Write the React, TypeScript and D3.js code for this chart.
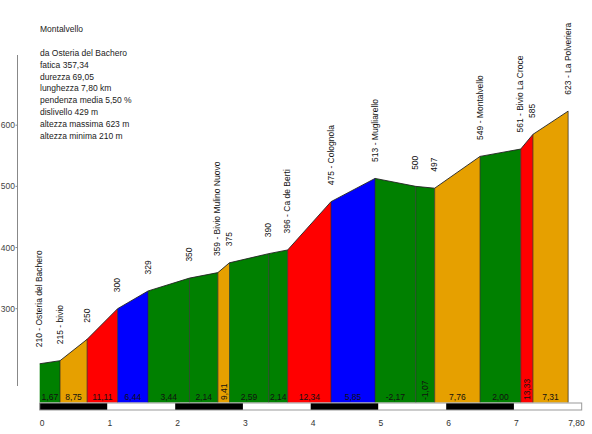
import React from "react";
import * as d3 from "d3";

const kms = [0, 0.30, 0.70, 1.15, 1.60, 2.21, 2.63, 2.80, 3.38, 3.66, 4.30, 4.95, 5.55, 5.83, 6.50, 7.10, 7.28, 7.80];
const elevations = [210, 215, 250, 300, 329, 350, 359, 375, 390, 396, 475, 513, 500, 497, 549, 561, 585, 623];
const pointNames = [
  "Osteria del Bachero", "bivio", "", "", "", "", "Bivio Mulino Nuovo", "", "", "Ca de Berti",
  "Colognola", "Mugliarello", "", "", "Montalvello", "Bivio La Croce", "", "La Polveriera",
];
const slopes = [1.67, 8.75, 11.11, 6.44, 3.44, 2.14, 9.41, 2.59, 2.14, 12.34, 5.85, -2.17, -1.07, 7.76, 2.00, 13.33, 7.31];
const yTicks = [300, 400, 500, 600];
const xTicks = [0, 1, 2, 3, 4, 5, 6, 7];
const xTickLabels = ["0", "1", "2", "3", "4", "5", "6", "7"];
const infoLines = [
  "da Osteria del Bachero",
  "fatica 357,34",
  "durezza 69,05",
  "lunghezza 7,80 km",
  "pendenza media 5,50 %",
  "dislivello 429 m",
  "altezza massima 623 m",
  "altezza minima 210 m",
];
const title = "Montalvello";
const totalKm = 7.8;
const totalKmLabel = "7,80";

const FONT = "'Liberation Sans', Arial, sans-serif";
const FS = 8.5;

function slopeColor(s: number) {
  if (s >= 10) return "#FF0000";
  if (s >= 7) return "#E6A000";
  if (s >= 5) return "#0000FF";
  return "#008000";
}

const fmt = (v: number) => v.toFixed(2).replace(".", ",");

function textWidth(t: string) {
  let w = 0;
  for (const c of t) {
    if (c === ",") w += 0.278;
    else if (c === "-") w += 0.333;
    else w += 0.556;
  }
  return w * FS;
}

export default function App() {
  const x = d3.scaleLinear().domain([0, 8]).range([39.7, 581.7]);
  const y = d3.scaleLinear().domain([300, 600]).range([308.7, 125.2]);
  const base = 402.5;

  const segs = slopes.map((s, i) => {
    const x0 = x(kms[i]);
    const x1 = x(kms[i + 1]);
    const y0 = y(elevations[i]);
    const y1 = y(elevations[i + 1]);
    return { s, x0, x1, y0, y1 };
  });

  const topLine = d3.line<number>()
    .x((_, i) => x(kms[i]))
    .y((e) => y(e))(elevations) as string;

  return (
    <svg width={592} height={434} style={{ position: "absolute", left: 0, top: 0 }} fontFamily={FONT}>
      <rect width={592} height={434} fill="#fff" />
      {/* info text */}
      <text x={40} y={32} fontSize={FS} fill="#222">{title}</text>
      {infoLines.map((t, i) => (
        <text key={i} x={40} y={56 + i * 11.8} fontSize={FS} fill="#222">{t}</text>
      ))}
      {/* y axis */}
      <line x1={17.5} x2={17.5} y1={55} y2={386} stroke="#888" strokeWidth={1} />
      {yTicks.map((t) => (
        <g key={t}>
          <line x1={15.5} x2={17.5} y1={y(t)} y2={y(t)} stroke="#888" />
          <text x={15} y={y(t) + 3} fontSize={FS} fill="#444" textAnchor="end">{t}</text>
        </g>
      ))}
      {/* segments */}
      {segs.map((d, i) => (
        <path
          key={i}
          d={`M${d.x0},${base}L${d.x0},${d.y0}L${d.x1},${d.y1}L${d.x1},${base}Z`}
          fill={slopeColor(d.s)}
        />
      ))}
      {segs.map((d, i) => (
        <line key={"v" + i} x1={d.x1} x2={d.x1} y1={d.y1} y2={base} stroke="#222" strokeWidth={0.8} opacity={0.85} />
      ))}
      <path d={topLine} fill="none" stroke="#222" strokeWidth={0.9} />
      {/* slope labels */}
      {segs.map((d, i) => {
        const cx = (d.x0 + d.x1) / 2;
        const label = fmt(d.s);
        const narrow = textWidth(label) > d.x1 - d.x0;
        return narrow ? (
          <text key={"s" + i} transform={`translate(${cx + 3},${400}) rotate(-90)`} fontSize={FS} fill="#111">
            {label}
          </text>
        ) : (
          <text key={"s" + i} x={cx} y={400} fontSize={FS} fill="#111" textAnchor="middle">
            {label}
          </text>
        );
      })}
      {/* point labels */}
      {elevations.map((e, i) => (
        <text
          key={"p" + i}
          transform={`translate(${x(kms[i]) + 2.5},${y(e) - 16.5}) rotate(-90)`}
          fontSize={FS}
          fill="#111"
        >
          {pointNames[i] ? `${e} - ${pointNames[i]}` : `${e}`}
        </text>
      ))}
      {/* scale bar */}
      {xTicks.map((t) => (
        <rect
          key={"b" + t}
          x={x(t)}
          y={403}
          width={x(t + 1) - x(t)}
          height={7}
          fill={t % 2 === 0 ? "#000" : "#fff"}
        />
      ))}
      <rect x={x(0)} y={403} width={x(8) - x(0)} height={7} fill="none" stroke="#999" strokeWidth={1} />
      {/* x labels */}
      {xTicks.map((t, i) => (
        <text key={"x" + t} x={x(t)} y={426} fontSize={FS} fill="#333">{xTickLabels[i]}</text>
      ))}
      <text x={x(totalKm)} y={426} fontSize={FS} fill="#333">{totalKmLabel}</text>
    </svg>
  );
}
